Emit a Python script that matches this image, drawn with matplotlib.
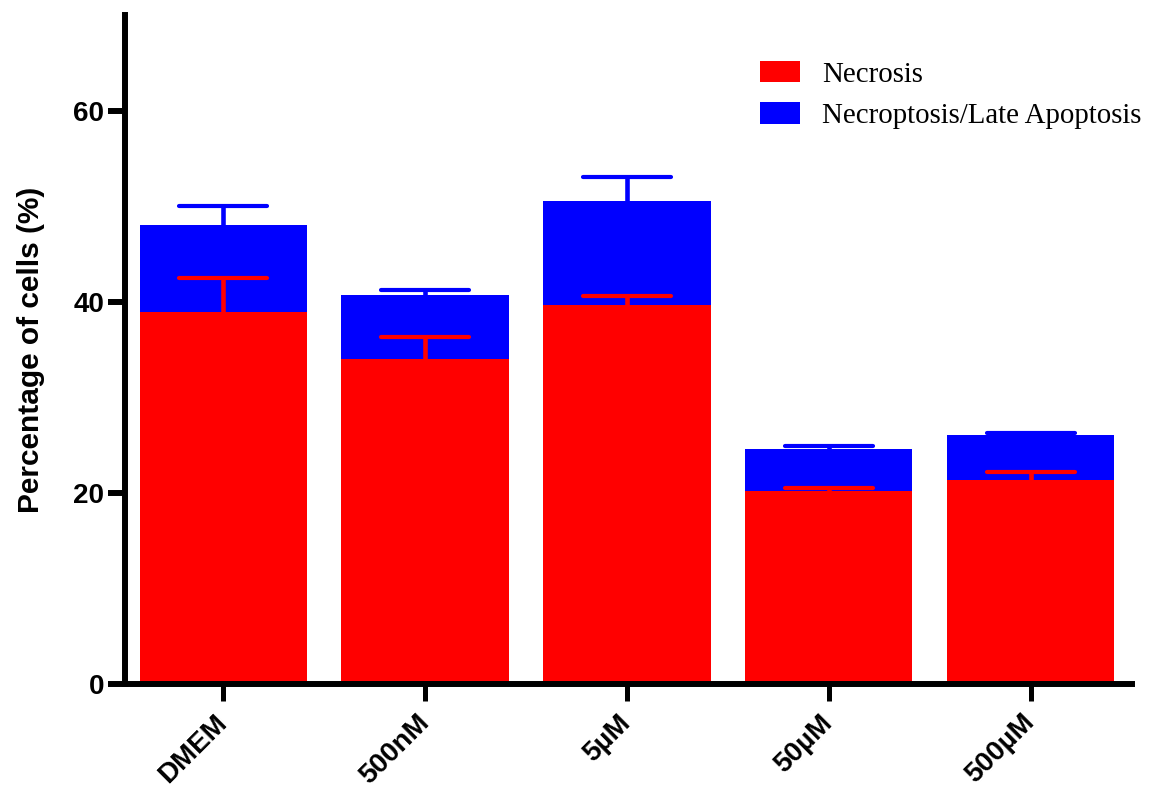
import matplotlib.pyplot as plt
from matplotlib.markers import MarkerStyle
from matplotlib.transforms import ScaledTranslation
import numpy as np

# Valores
groups = ['DMEM', '500nM', '5µM', '50µM', '500µM']
necrosis = [38.96, 34.03, 39.65, 20.2, 21.3]
necrosis_err = [3.57, 2.27, 0.95, 0.35, 0.85]
total = [48.05, 40.7, 50.49, 24.55, 26.1]
late_err = [1.95, 0.5, 2.53, 0.31, 0.2]

late = [t - n for t, n in zip(total, necrosis)]
x = np.arange(len(groups))

fig = plt.figure(figsize=(11.49, 7.94), dpi=100)
ax = fig.add_axes([125 / 1149, 1 - 684 / 794, (1132 - 125) / 1149, (684 - 15) / 794])

w = 0.83
ax.bar(x, necrosis, width=w, color='#ff0000', label='Necrosis', zorder=2)
ax.bar(x, late, width=w, bottom=necrosis, color='#0000ff',
       label='Necroptosis/Late Apoptosis', zorder=2)

# barras de error (solo hacia arriba)
for vals, err, col in [(total, late_err, '#0000ff'), (necrosis, necrosis_err, '#ff0000')]:
    eb = ax.errorbar(x, vals, yerr=[np.zeros(len(err)), err], fmt='none', ecolor=col,
                     elinewidth=3.3, capsize=31.5, capthick=3, zorder=3)
    eb[1][0].set_visible(False)  # sin tapa inferior
    for cap in eb[1]:
        cap.set_marker(MarkerStyle('_', capstyle='round'))

ax.set_xlim(-0.488, 4.503)
ax.set_ylim(0, 70)
ax.set_yticks([0, 20, 40, 60])
ax.set_xticks(x)
ax.set_xticklabels(groups, rotation=45, ha='right', va='center', rotation_mode='anchor',
                   fontsize=20, fontweight='bold', family='Liberation Sans')
offset = ScaledTranslation(-3 / 100, 0, fig.dpi_scale_trans)
for lab in ax.get_xticklabels():
    lab.set_transform(lab.get_transform() + offset)
for lab in ax.get_yticklabels():
    lab.set_fontsize(20)
    lab.set_fontweight('bold')
    lab.set_family('Liberation Sans')

ax.spines['top'].set_visible(False)
ax.spines['right'].set_visible(False)
ax.spines['left'].set_linewidth(4.3)
ax.spines['bottom'].set_linewidth(4.3)
ax.tick_params(axis='y', length=12, width=4.3, pad=3)
ax.tick_params(axis='x', length=12, width=3.6, pad=13)

ax.set_ylabel('Percentage of cells (%)', fontsize=21.5, fontweight='bold',
              family='Liberation Sans', labelpad=20)

ax.legend(loc='upper left', bbox_to_anchor=(760 / 1149, 1 - 61 / 794),
          bbox_transform=fig.transFigure, frameon=False,
          prop={'family': 'Liberation Serif', 'size': 20.8},
          handlelength=1.38, handleheight=0.76, handletextpad=0.76,
          labelspacing=0.5, borderpad=0, borderaxespad=0)

plt.savefig('out.png', dpi=100)
